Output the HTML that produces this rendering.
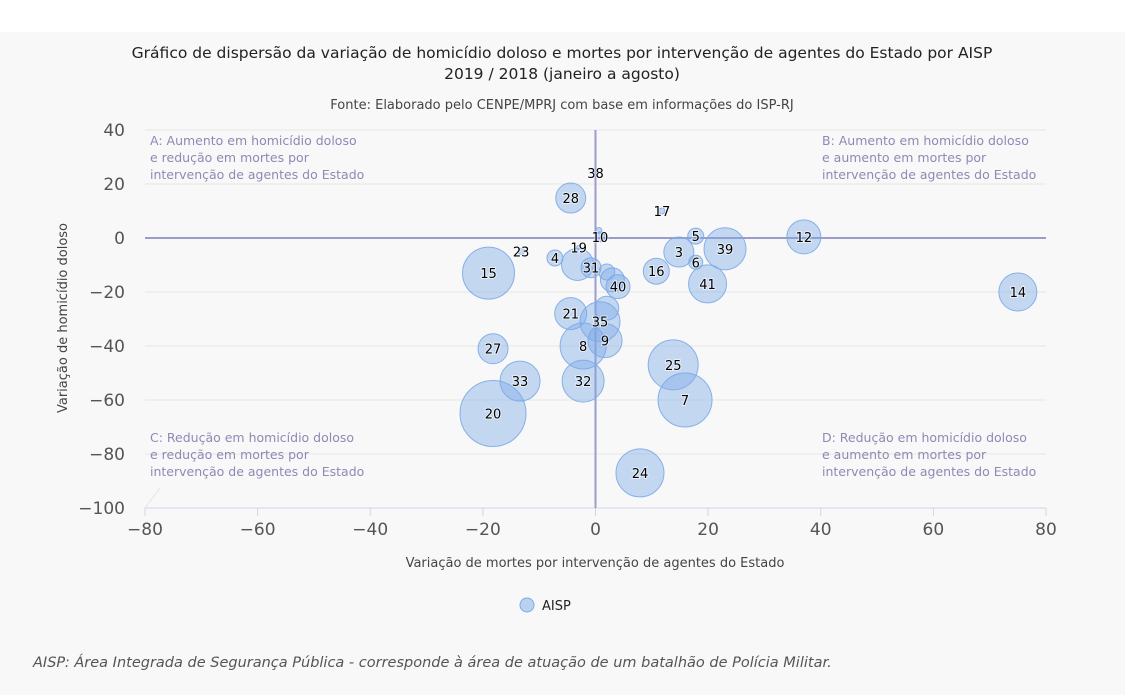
<!DOCTYPE html>
<html><head><meta charset="utf-8"><style>
html,body{margin:0;padding:0;background:#fff;}
body{width:1125px;height:695px;overflow:hidden;font-family:"DejaVu Sans","Liberation Sans",sans-serif;}
</style></head><body>
<svg id="chart" width="1125" height="695" xmlns="http://www.w3.org/2000/svg" font-family="DejaVu Sans, Liberation Sans, sans-serif">
<rect x="0" y="32" width="1125" height="663" fill="#f8f8f9"/>
<text x="562" y="58" text-anchor="middle" font-size="15.5" fill="#222">Gráfico de dispersão da variação de homicídio doloso e mortes por intervenção de agentes do Estado por AISP</text>
<text x="562" y="79" text-anchor="middle" font-size="15.5" fill="#222">2019 / 2018 (janeiro a agosto)</text>
<text x="562" y="109" text-anchor="middle" font-size="13" fill="#444">Fonte: Elaborado pelo CENPE/MPRJ com base em informações do ISP-RJ</text>
<g id="grid"></g>
<g id="quad" font-size="12.5" fill="#8d8ab3">
<text><tspan x="150" y="145">A: Aumento em homicídio doloso</tspan><tspan x="150" y="162">e redução em mortes por</tspan><tspan x="150" y="179">intervenção de agentes do Estado</tspan></text>
<text><tspan x="822" y="145">B: Aumento em homicídio doloso</tspan><tspan x="822" y="162">e aumento em mortes por</tspan><tspan x="822" y="179">intervenção de agentes do Estado</tspan></text>
<text><tspan x="150" y="442">C: Redução em homicídio doloso</tspan><tspan x="150" y="459">e redução em mortes por</tspan><tspan x="150" y="476">intervenção de agentes do Estado</tspan></text>
<text><tspan x="822" y="442">D: Redução em homicídio doloso</tspan><tspan x="822" y="459">e aumento em mortes por</tspan><tspan x="822" y="476">intervenção de agentes do Estado</tspan></text>
</g>
<g id="bubbles"></g>
<g id="labels"></g>
<text transform="translate(67,318) rotate(-90)" text-anchor="middle" font-size="13" fill="#444">Variação de homicídio doloso</text>
<text x="595" y="567" text-anchor="middle" font-size="13" fill="#444">Variação de mortes por intervenção de agentes do Estado</text>
<g>
<circle cx="527" cy="605" r="7" fill="rgba(124,170,230,0.5)" stroke="rgb(124,170,230)"/>
<text x="542" y="610" font-size="13" fill="#222">AISP</text>
</g>
<text x="33" y="667" font-size="14.5" font-style="italic" fill="#555">AISP: Área Integrada de Segurança Pública - corresponde à área de atuação de um batalhão de Polícia Militar.</text>
</svg>
<script>
const xTicks=[-80,-60,-40,-20,0,20,40,60,80];
const yTicks=[40,20,0,-20,-40,-60,-80,-100];
const ids=["38","28","17","10","","5","12","39","3","6","4","23","19","15","","31","","","40","16","41","14","21","","35","9","8","27","33","32","25","7","20","24"];
const xs=[0,-4.4,11.8,0.8,0.6,17.8,37,23,14.8,17.8,-7.2,-13.2,-3,-19,-3.2,-0.8,2,3,4,10.8,19.9,75,-4.4,2,0.8,1.7,-2.2,-18.2,-13.4,-2.2,13.8,15.9,-18.2,7.9];
const ys=[24,14.8,10,0.4,2.8,0.7,0.4,-4,-5.2,-9,-7.4,-5,-3.5,-13,-9.8,-11,-12.6,-15.5,-18,-12.3,-17,-20,-28,-26,-31,-38,-40,-41,-53,-53,-47,-60,-65,-87];
const zs=[1,15,3,5,3,8,17,21,15,7,8,3,2,26,16,10,8,12,12,13,19,19,16,12,20,17,23,15,20,21,25,27,33,24];
const NS="http://www.w3.org/2000/svg";
const X=v=>145+(v+80)*(1046-145)/160;
const Y=v=>130+(40-v)*(508-130)/140;
const R=z=>z;
const g=document.getElementById('grid');
function el(t,a,p){const e=document.createElementNS(NS,t);for(const k in a)e.setAttribute(k,a[k]);p.appendChild(e);return e;}
yTicks.forEach(t=>{
 if(t!==0){const l=el('line',{x1:145,x2:1046,y1:Y(t),y2:Y(t),stroke:'#e6e6e6','stroke-width':1},g);
 
 }
 const tx=el('text',{x:125,y:Y(t)+6,'text-anchor':'end','font-size':17,fill:'#555'},g);
 tx.textContent=String(t).replace('-','\u2212');
 
 
});
xTicks.forEach(t=>{
 const l=el('line',{x1:X(t),x2:X(t),y1:Y(-100),y2:Y(-100)+8,stroke:'#ccd6eb'},g);
 
 
 const tx=el('text',{x:X(t),y:535,'text-anchor':'middle','font-size':17,fill:'#555'},g);
 tx.textContent=String(t).replace('-','\u2212');
 
 
});
const xl=el('line',{x1:145,x2:1046,y1:Y(-100),y2:Y(-100),stroke:'#ccd6eb'},g);


const d=el('line',{x1:145,y1:Y(-100),x2:160,y2:488,stroke:'#e6e6e6'},g);


const h=el('line',{x1:145,x2:1046,y1:Y(0),y2:Y(0),stroke:'#9c9ccc','stroke-width':2},g);


const v=el('line',{x1:X(0),x2:X(0),y1:130,y2:Y(-100),stroke:'#9c9ccc','stroke-width':2},g);


const b=document.getElementById('bubbles'),lb=document.getElementById('labels');
xs.forEach((x,i)=>{
 const c=el('circle',{cx:X(x),cy:Y(ys[i]),r:R(zs[i]),fill:'rgba(124,170,230,0.42)',stroke:'rgba(124,170,230,0.9)','stroke-width':1},b);
 
 
 if(ids[i]){
  const t=el('text',{x:X(x),y:Y(ys[i])+5,'text-anchor':'middle','font-size':13,fill:'#000',stroke:'#fff','stroke-width':2,'paint-order':'stroke','stroke-opacity':0.6},lb);
  t.textContent=ids[i];
  
  
 }
});
</script>
</body></html>
